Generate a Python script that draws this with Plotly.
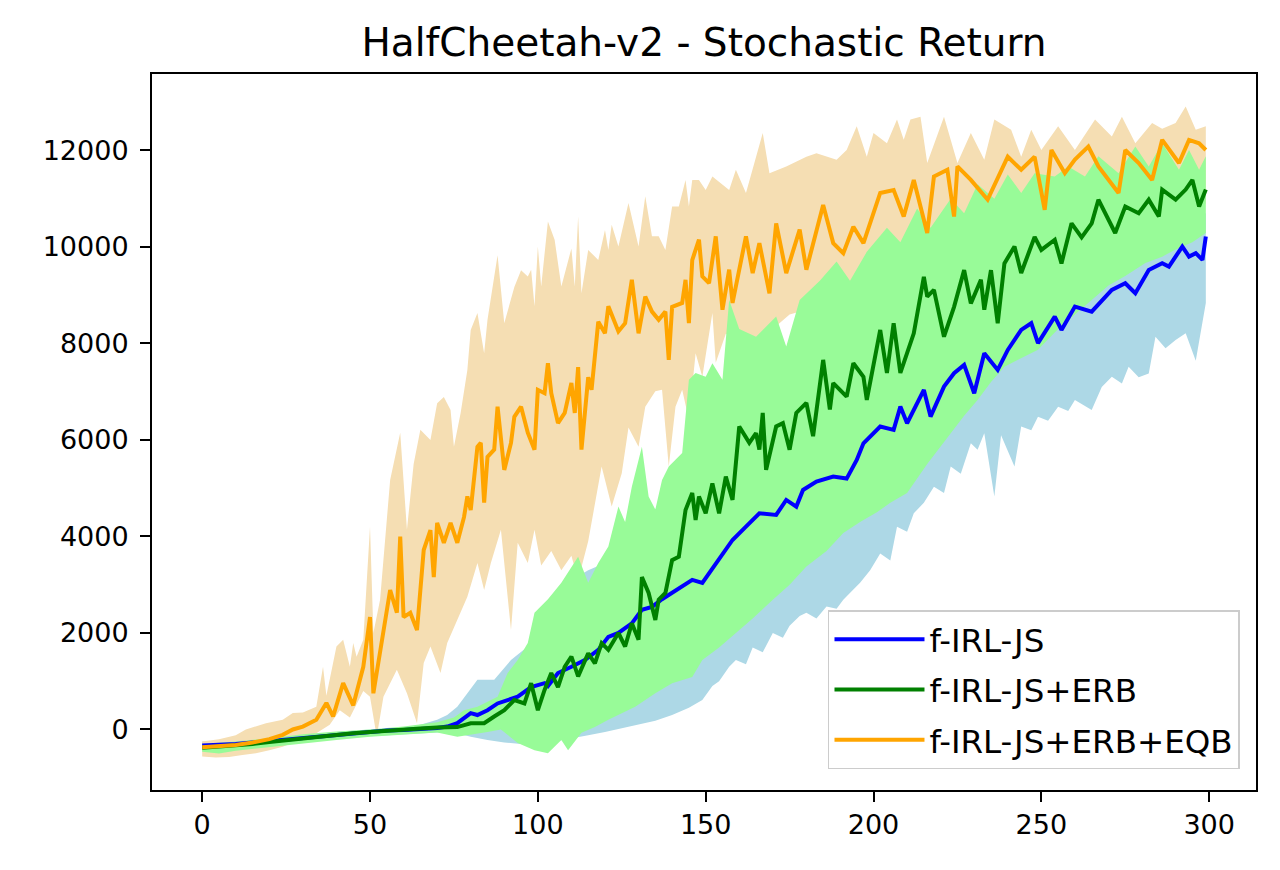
import plotly.graph_objects as go

# ---- f-IRL-JS (blue) ----
JS_X = [0, 5, 10, 15, 20, 25, 30, 35, 40, 45, 50, 55, 60, 65, 70, 73, 76, 80, 82, 85,
        88, 91, 94, 98, 102, 103, 106, 110, 114, 118, 121, 124, 128, 131, 134, 137, 140, 143, 146, 149,
        154, 158, 162, 166, 171, 174, 177, 179, 183, 188, 192, 195, 197, 202, 206, 208, 210, 212, 215, 217,
        221, 224, 227, 230, 233, 237, 240, 244, 247, 249, 254, 256, 260, 265, 271, 275, 278, 282, 286, 288,
        292, 294, 296, 298, 299]
JS_MEAN = [-330, -320, -300, -270, -240, -200, -170, -130, -100, -70, -40, -20, -10, 0, 30, 60, 130, 340, 300, 400,
           540, 610, 680, 880, 960, 900, 1170, 1300, 1440, 1650, 1920, 2000, 2200, 2480, 2540, 2700, 2830, 2950, 3100, 3040,
           3514, 3928, 4205, 4481, 4447, 4758, 4619, 4965, 5137, 5241, 5200, 5587, 5932, 6278, 6209, 6692, 6347, 6623, 7038, 6485,
           7107, 7383, 7556, 6969, 7798, 7452, 7867, 8282, 8420, 8006, 8558, 8282, 8765, 8660, 9111, 9249, 9042, 9525, 9664, 9594,
           10009, 9801, 9872, 9733, 10217]
JS_HI_X = [0, 10, 20, 30, 40, 50, 60, 65, 70, 73, 76, 79, 82, 87, 92, 97, 101, 103, 106, 110,
           115, 120, 124, 128, 133, 135, 137, 140, 143, 147, 160, 180, 200, 220, 240, 260, 280, 290, 299]
JS_HI = [-250, -230, -180, -110, -50, 0, 40, 100, 200, 300, 470, 750, 1030, 1030, 1440, 1720, 2130, 2540, 2690, 3100,
         3300, 3450, 3790, 4200, 4490, 4560, 4830, 5000, 5300, 5700, 6500, 7500, 8300, 9200, 9800, 10100, 10400, 10600, 10700]
JS_LO_X = [0, 10, 20, 30, 40, 50, 60, 65, 70, 76, 80, 85, 90, 95, 100, 105, 110, 115, 120, 125,
           130, 135, 140, 145, 149, 152, 154, 157, 159, 162, 164, 167, 170, 173, 175, 178, 180, 183, 186, 189,
           191, 194, 196, 199, 202, 205, 207, 210, 212, 215, 218, 221, 223, 226, 229, 231, 233, 236, 238, 242,
           244, 247, 249, 252, 255, 258, 260, 263, 265, 268, 271, 274, 276, 279, 282, 284, 287, 290, 293, 296,
           298, 299]
JS_LO = [-420, -400, -330, -260, -200, -140, -100, -80, -60, -80, -150, -220, -270, -300, -280, -250, -180, -120, -50, 30,
         100, 180, 300, 450, 612, 900, 1000, 1300, 1440, 1350, 1700, 1600, 2000, 1900, 2150, 2350, 2420, 2300, 2550, 2500,
         2690, 2900, 3040, 3300, 3650, 3500, 4200, 4100, 4480, 4700, 5030, 4900, 5450, 5300, 5930, 5800, 6140, 4830, 6100, 5450,
         6280, 6200, 6480, 6400, 6690, 6600, 6830, 6700, 6620, 7100, 7310, 7170, 7520, 7300, 7380, 8140, 7900, 8070, 8210, 7640,
         8420, 8840]

# ---- f-IRL-JS+ERB (green) ----
ERB_X = [0, 5, 10, 15, 20, 25, 30, 35, 40, 45, 50, 55, 60, 65, 70, 76, 80, 84, 87, 90,
         93, 96, 98, 100, 102, 104, 106, 108, 110, 112, 115, 117, 119, 121, 124, 126, 128, 130, 131, 133,
         135, 136, 138, 140, 142, 144, 146, 147, 148, 150, 152, 154, 156, 158, 160, 163, 165, 166, 167, 168,
         171, 173, 175, 177, 180, 182, 185, 187, 188, 192, 194, 197, 198, 202, 204, 206, 208, 212, 215, 216,
         218, 221, 224, 227, 229, 232, 233, 235, 237, 239, 242, 244, 248, 250, 254, 256, 259, 262, 265, 267,
         272, 275, 279, 282, 285, 286, 290, 293, 295, 297, 299]
ERB_MEAN = [-380, -360, -330, -300, -260, -220, -180, -150, -110, -80, -50, -20, 0, 20, 40, 50, 130, 130, 270, 400,
            610, 540, 960, 400, 820, 1170, 880, 1300, 1510, 1100, 1580, 1370, 1790, 1650, 2000, 1720, 2200, 1860, 3160, 2830,
            2270, 2690, 2830, 3510, 3580, 4550, 4900, 4340, 4830, 4480, 5100, 4480, 5240, 4760, 6280, 5940, 6140, 5800, 6560, 5380,
            6280, 6350, 5800, 6560, 6770, 6080, 7660, 6630, 7180, 6900, 7590, 7310, 6830, 8280, 7390, 8420, 7390, 8210, 9380, 8970,
            9110, 8140, 8760, 9520, 8830, 9320, 8700, 9520, 8420, 9660, 10010, 9460, 10210, 9940, 10150, 9660, 10490, 10200, 10490, 10980,
            10290, 10840, 10700, 10980, 10630, 11190, 10980, 11190, 11390, 10840, 11190]
ERB_HI_X = [0, 10, 20, 30, 40, 50, 60, 70, 75, 78, 82, 88, 91, 94, 97, 99, 103, 107, 112, 115,
            118, 121, 124, 126, 128, 131, 133, 135, 137, 139, 141, 143, 145, 147, 150, 152, 155, 157, 160, 165,
            171, 174, 178, 184, 189, 193, 198, 204, 208, 213, 217, 223, 227, 231, 236, 240, 244, 248, 254, 258,
            263, 267, 273, 278, 282, 286, 291, 294, 297, 299]
ERB_HI = [-300, -250, -180, -100, -40, 0, 60, 150, 250, 400, 470, 680, 1170, 1440, 1790, 2420, 2700, 3040, 3580, 3040,
          3450, 3790, 4620, 4300, 5030, 5860, 4830, 4560, 5170, 5450, 5590, 5730, 7250, 7390, 7310, 7590, 7250, 8900, 8300, 8140,
          8560, 7940, 8900, 9300, 9700, 9300, 9900, 10400, 10100, 10800, 10400, 11000, 10700, 11300, 11000, 11500, 11120, 11530, 11460, 11670,
          11460, 11880, 11530, 12080, 11670, 12150, 11600, 12010, 11600, 11880]
ERB_LO_X = [0, 5, 10, 20, 30, 40, 50, 60, 70, 76, 80, 85, 89, 94, 99, 103, 107, 109, 113, 117,
            121, 125, 129, 135, 140, 146, 149, 154, 159, 164, 170, 175, 180, 186, 191, 196, 201, 205, 210, 216,
            223, 227, 231, 235, 239, 244, 249, 255, 260, 265, 270, 275, 281, 286, 290, 295, 299]
ERB_LO = [-460, -500, -440, -370, -290, -220, -150, -100, -60, -150, -100, -50, 0, -280, -430, -490, -220, -430, -70, 50,
          200, 340, 470, 750, 960, 1090, 1440, 1700, 2000, 2300, 2690, 3000, 3380, 3700, 4070, 4300, 4500, 4700, 4900, 5500,
          6140, 6500, 6830, 7200, 7520, 7700, 7870, 8300, 8600, 8900, 9200, 9400, 9670, 9800, 9950, 10100, 10290]

# ---- f-IRL-JS+ERB+EQB (orange) ----
EQB_X = [0, 5, 10, 15, 20, 24, 27, 30, 34, 37, 39, 42, 45, 48, 50, 51, 54, 56, 58, 59,
         60, 62, 64, 66, 68, 69, 70, 72, 74, 76, 78, 79, 80, 82, 83, 84, 85, 87, 88, 90,
         92, 93, 95, 97, 99, 100, 102, 103, 104, 106, 108, 110, 111, 112, 113, 115, 116, 118, 120, 121,
         124, 126, 128, 130, 132, 134, 136, 138, 139, 140, 143, 144, 145, 146, 148, 149, 151, 153, 155, 157,
         158, 162, 164, 166, 169, 171, 174, 178, 180, 185, 188, 191, 194, 197, 202, 206, 209, 212, 216, 218,
         222, 224, 225, 229, 234, 240, 244, 248, 251, 253, 257, 260, 264, 267, 273, 275, 279, 283, 286, 291,
         294, 297, 299]
EQB_MEAN = [-370, -350, -320, -270, -200, -110, 0, 60, 200, 550, 270, 960, 500, 1300, 2330, 750, 2000, 2890, 2420, 4000,
            2330, 2420, 2060, 3720, 4130, 3160, 4280, 3870, 4280, 3870, 4400, 4830, 4550, 5860, 5940, 4700, 5650, 5800, 6690, 5380,
            5940, 6480, 6690, 6150, 5800, 7040, 6970, 7590, 6970, 6350, 6560, 7180, 6560, 7510, 5800, 7300, 7040, 8450, 8210, 8770,
            8250, 8420, 9320, 8210, 8970, 8660, 8490, 8660, 7660, 8760, 8840, 9320, 8420, 9730, 10150, 9390, 9250, 10220, 8700, 9530,
            8840, 10220, 9460, 10080, 9040, 10490, 9460, 10360, 9530, 10870, 10080, 9870, 10420, 10080, 11120, 11180, 10630, 11390, 10290, 11460,
            11600, 10630, 11670, 11390, 10980, 11870, 11600, 11870, 10770, 12010, 11530, 11810, 12080, 11670, 11120, 12010, 11740, 11390, 12220, 11740,
            12220, 12150, 12010]
EQB_HI_X = [0, 5, 10, 13, 19, 24, 27, 30, 34, 36, 37, 40, 42, 44, 45, 46, 48, 50, 51, 53,
            56, 59, 61, 63, 65, 68, 70, 72, 74, 75, 77, 79, 80, 82, 84, 85, 88, 90, 93, 95,
            97, 98, 99, 100, 101, 103, 105, 107, 110, 111, 112, 113, 115, 118, 120, 121, 122, 124, 127, 130,
            132, 134, 136, 138, 140, 142, 144, 145, 146, 148, 150, 152, 157, 159, 162, 167, 169, 174, 180, 183,
            189, 192, 195, 198, 200, 204, 207, 209, 211, 214, 216, 221, 225, 229, 233, 236, 241, 244, 247, 250,
            255, 260, 266, 271, 274, 278, 283, 286, 290, 293, 296, 299]
EQB_HI = [-250, -200, -120, 0, 130, 200, 340, 350, 470, 1300, 700, 1720, 1860, 1300, 1790, 1510, 1860, 4200, 2000, 2690,
          5170, 6150, 4140, 5500, 6210, 6000, 6760, 6890, 6620, 5860, 6560, 7450, 8280, 8630, 7800, 8490, 9830, 8420, 9170, 9520,
          9390, 9530, 8770, 10010, 9180, 10530, 10150, 9180, 9970, 9180, 10630, 9040, 9940, 9730, 10350, 9940, 10460, 10010, 10910, 10010,
          11050, 10220, 10220, 9940, 10840, 10840, 11390, 10840, 11390, 11390, 11180, 11460, 11180, 11600, 11120, 12360, 11530, 11670, 11870, 11940,
          11810, 12010, 12500, 11870, 12360, 12150, 12640, 12220, 12640, 12700, 11740, 12700, 11740, 12360, 11810, 12640, 12430, 11870, 12430, 12010,
          12500, 12010, 12640, 12290, 12700, 12150, 12570, 12450, 12570, 12910, 12430, 12500]
EQB_LO_X = [0, 4, 8, 12, 16, 20, 24, 29, 34, 38, 41, 44, 48, 50, 52, 54, 58, 61, 64, 66,
            68, 71, 73, 76, 79, 82, 84, 86, 89, 92, 94, 97, 99, 101, 104, 107, 110, 112, 115, 119,
            122, 125, 127, 130, 132, 135, 137, 139, 141, 143, 145, 147, 149, 152, 153, 156, 160, 165, 175, 185,
            195, 205, 215, 225, 235, 245, 255, 265, 275, 285, 293, 299]
EQB_LO = [-560, -580, -570, -530, -490, -430, -360, -220, -80, 100, 400, 250, 800, 680, -150, 680, 1240, 750, 130, 1380,
          1720, 1170, 1790, 2270, 2750, 3450, 2890, 3450, 4140, 2060, 3870, 3450, 4140, 3400, 3700, 3300, 3600, 3100, 3900, 5450,
          4620, 5310, 6260, 5860, 6690, 7010, 7040, 5450, 6690, 7040, 6420, 7800, 7310, 8630, 7600, 8200, 8100, 8000, 8600, 8800,
          9200, 9500, 9700, 10000, 10100, 10300, 10400, 10500, 10700, 10800, 10560, 10900]

X_TICKS = [0, 50, 100, 150, 200, 250, 300]
Y_TICKS = [0, 2000, 4000, 6000, 8000, 10000, 12000]


def band(hx, hy, lx, ly, color):
    return go.Scatter(x=hx + lx[::-1], y=hy + ly[::-1], fill='toself', fillcolor=color,
                      mode='lines', line=dict(width=0), hoverinfo='skip', showlegend=False)


fig = go.Figure()
fig.add_trace(band(JS_HI_X, JS_HI, JS_LO_X, JS_LO, '#ADD8E6'))
fig.add_trace(band(EQB_HI_X, EQB_HI, EQB_LO_X, EQB_LO, '#F5DEB3'))
fig.add_trace(band(ERB_HI_X, ERB_HI, ERB_LO_X, ERB_LO, '#98FB98'))

fig.add_trace(go.Scatter(x=JS_X, y=JS_MEAN, mode='lines', name='f-IRL-JS', legendgroup='a',
                         line=dict(color='blue', width=4)))
fig.add_trace(go.Scatter(x=ERB_X, y=ERB_MEAN, mode='lines', name='f-IRL-JS+ERB', legendgroup='b',
                         line=dict(color='green', width=4)))
fig.add_trace(go.Scatter(x=EQB_X, y=EQB_MEAN, mode='lines', name='f-IRL-JS+ERB+EQB', legendgroup='c',
                         line=dict(color='orange', width=4)))

axis_style = dict(showline=True, linecolor='black', linewidth=2, mirror=True, ticks='outside',
                  ticklen=10, tickwidth=2, tickcolor='black', showgrid=False, zeroline=False,
                  tickfont=dict(size=27, color='black'))
fig.update_xaxes(range=[-14.95, 313.95], tickvals=X_TICKS, **axis_style)
fig.update_yaxes(range=[-1254, 13585], tickvals=Y_TICKS, tickformat='d', ticklabelstandoff=6, **axis_style)

# the page body adds an 8px offset, so margins are shifted to keep the frame in place
fig.update_layout(
    width=1280, height=870,
    margin=dict(l=144, r=32, t=66, b=88),
    paper_bgcolor='white', plot_bgcolor='white',
    font=dict(family='DejaVu Sans', size=26, color='black'),
    title=dict(text='HalfCheetah-v2 - Stochastic Return', x=0.5, xref='paper', xanchor='center',
               y=1 - 34 / 870, yref='container', yanchor='middle', font=dict(size=39)),
    legend=dict(x=0.9855, y=0.029, xanchor='right', yanchor='bottom',
                bgcolor='rgba(255,255,255,0.8)', bordercolor='#cccccc', borderwidth=1.5,
                font=dict(size=32.5), tracegroupgap=5, itemwidth=90),
)

fig.write_html("out.html")
